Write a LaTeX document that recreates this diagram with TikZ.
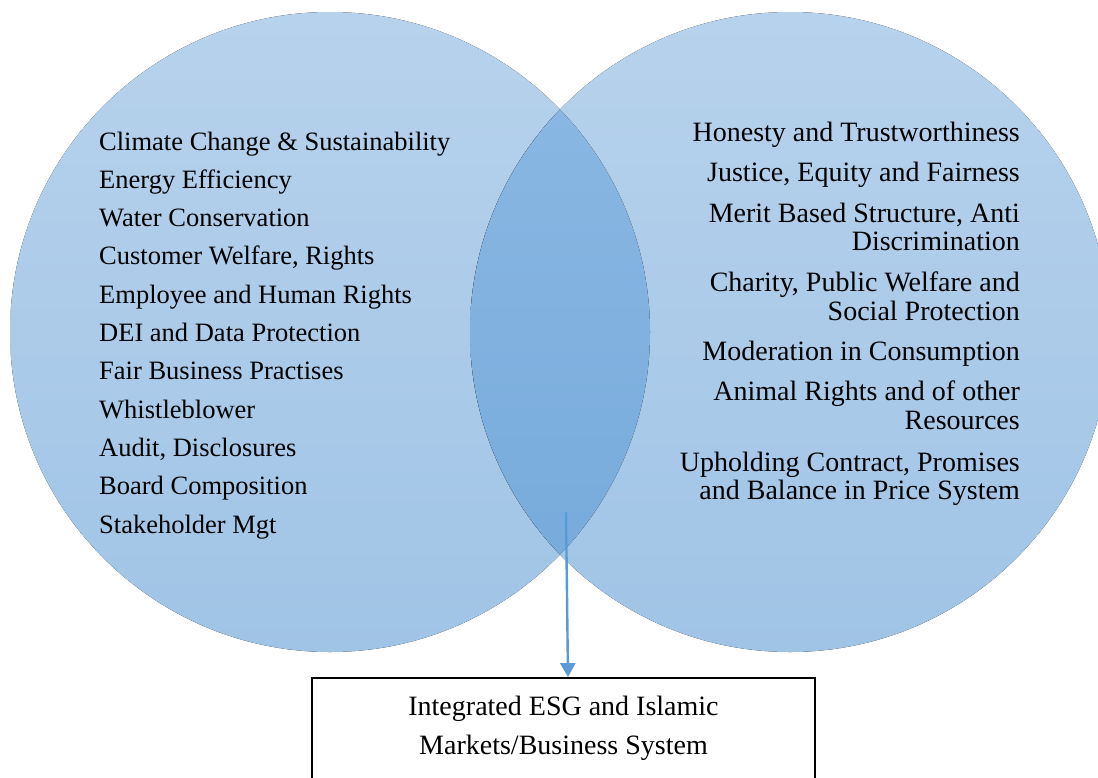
\documentclass[tikz,border=0pt]{standalone}
\usepackage{fontspec}
\setmainfont{Liberation Serif}
\usetikzlibrary{arrows.meta}
\definecolor{circtop}{RGB}{183,210,236}
\definecolor{circbot}{RGB}{160,196,230}
\definecolor{ovtop}{RGB}{141,185,228}
\definecolor{ovbot}{RGB}{116,169,218}
\definecolor{arrowblue}{RGB}{91,155,213}
\tikzset{
  item/.style={inner sep=0pt, font=\fontsize{26.5}{30}\selectfont},
  bigitem/.style={inner sep=0pt, font=\fontsize{28}{30}\selectfont},
  litem/.style={item, anchor=base west},
  ritem/.style={bigitem, anchor=base east},
  citem/.style={bigitem, anchor=base},
  resultbox/.style={draw=black, line width=1.8pt, fill=white, minimum width=503pt, minimum height=130pt, inner sep=0pt},
  link/.style={draw=arrowblue, line width=2.4pt, -{Triangle[length=14pt,width=15pt]}}
}
\begin{document}
\begin{tikzpicture}[x=1pt,y=-1pt]
\clip (0,0) rectangle (1098,777);
\fill[white] (0,0) rectangle (1098,777);
% circles
\fill[top color=circtop, bottom color=circbot] (330,332) circle (320pt);
\fill[top color=circtop, bottom color=circbot] (790,332) circle (320pt);
\begin{scope}
  \clip (330,332) circle (320pt);
  \fill[top color=ovtop, bottom color=ovbot] (790,332) circle (320pt);
\end{scope}
% left list
\node[litem] (l1) at (99,150) {Climate Change \& Sustainability};
\node[litem] (l2) at (99,188.3) {Energy Efficiency};
\node[litem] (l3) at (99,226.6) {Water Conservation};
\node[litem] (l4) at (99,264.9) {Customer Welfare, Rights};
\node[litem] (l5) at (99,303.2) {Employee and Human Rights};
\node[litem] (l6) at (99,341.5) {DEI and Data Protection};
\node[litem] (l7) at (99,379.8) {Fair Business Practises};
\node[litem] (l8) at (99,418.1) {Whistleblower};
\node[litem] (l9) at (99,456.4) {Audit, Disclosures};
\node[litem] (l10) at (99,494.7) {Board Composition};
\node[litem] (l11) at (99,533) {Stakeholder Mgt};
% right list
\node[ritem] (r1) at (1020,141) {Honesty and Trustworthiness};
\node[ritem] (r2) at (1020,181) {Justice, Equity and Fairness};
\node[ritem] (r3a) at (1020,222) {Merit Based Structure, Anti};
\node[ritem] (r3b) at (1020,250.5) {Discrimination};
\node[ritem] (r4a) at (1020,291) {Charity, Public Welfare and};
\node[ritem] (r4b) at (1020,320) {Social Protection};
\node[ritem] (r5) at (1020,360) {Moderation in Consumption};
\node[ritem] (r6a) at (1020,400) {Animal Rights and of other};
\node[ritem] (r6b) at (1020,429) {Resources};
\node[ritem] (r7a) at (1020,471) {Upholding Contract, Promises};
\node[ritem] (r7b) at (1020,499.5) {and Balance in Price System};
% result box
\node[resultbox] (box) at (563.5,743) {};
\node[citem] (b1) at (563.5,715) {Integrated ESG and Islamic};
\node[citem] (b2) at (563.5,754) {Markets/Business System};
% arrow
\coordinate (start) at (566,512);
\draw[link] (start) -- (box.north -| 568,0);
\end{tikzpicture}
\end{document}
